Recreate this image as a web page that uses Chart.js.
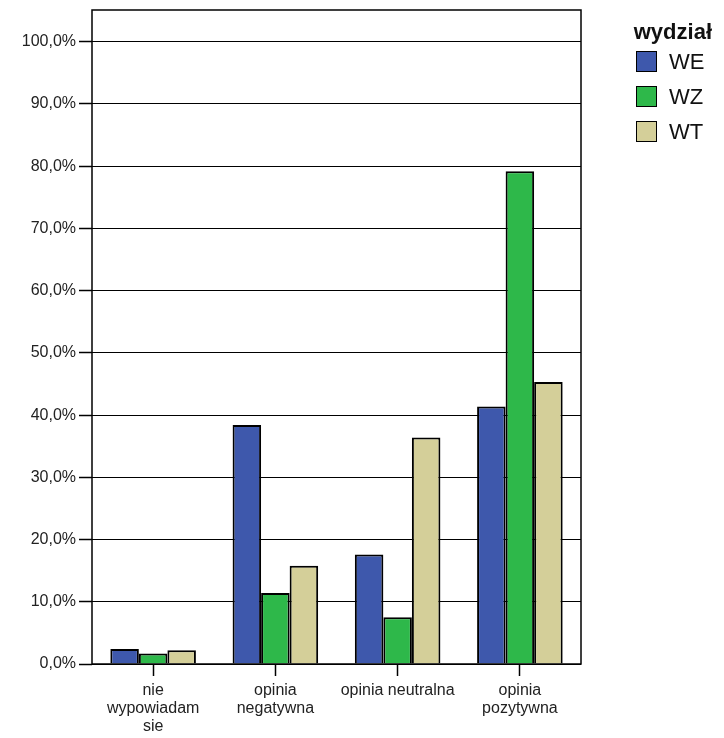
<!DOCTYPE html>
<html>
<head>
<meta charset="utf-8">
<script src="https://cdn.jsdelivr.net/npm/chart.js@4/dist/chart.umd.min.js"></script>
<style>
	body { margin: 0; background: #fff; }
	#wrap { position: relative; width: 724px; height: 738px; }
	#legend { position: absolute; left: 620px; top: 19px; font-family: Arial, 'Liberation Sans', sans-serif; color: #111; }
	#legend .title { font-weight: bold; font-size: 22px; text-align: right; width: 92px; margin-bottom: -1px; }
	#legend .item { display: flex; align-items: center; height: 35px; margin-left: 16px; font-size: 22px; }
	#legend .box { width: 19px; height: 19px; border: 1.5px solid #000; margin-right: 12px; }
</style>
</head>
<body>
<div id="wrap">
	<canvas id="CanvasWydzial" width="724" height="738"></canvas>
	<div id="legend"></div>
</div>
<script>
var categories = [['nie', 'wypowiadam', 'sie'], ['opinia', 'negatywna'], 'opinia neutralna', ['opinia', 'pozytywna']];
var seriesNames = ['WE', 'WZ', 'WT'];
var valuesWE = [2.4, 38.4, 17.6, 41.4];
var valuesWZ = [1.7, 11.4, 7.5, 79.2];
var valuesWT = [2.2, 15.8, 36.4, 45.3];
var yTicks = [0, 10, 20, 30, 40, 50, 60, 70, 80, 90, 100];
var colors = ['#3e58ac', '#2eb84a', '#d4cf99'];

var fontFamily = "Arial, 'Liberation Sans', sans-serif";

// box round the plot area
var frame = {
	id: 'frame',
	afterDatasetsDraw: function (chart) {
		var a = chart.chartArea;
		var ctx = chart.ctx;
		ctx.save();
		ctx.strokeStyle = '#000';
		ctx.lineWidth = 1.5;
		ctx.strokeRect(a.left, a.top, a.right - a.left, a.bottom - a.top);
		ctx.restore();
	}
};

var datasets = [valuesWE, valuesWZ, valuesWT].map(function (vals, i) {
	return {
		label: seriesNames[i],
		data: vals,
		backgroundColor: colors[i],
		borderColor: '#000',
		borderWidth: 2,
		categoryPercentage: 0.7,
		barPercentage: 1.0
	};
});

new Chart(document.getElementById('CanvasWydzial'), {
	type: 'bar',
	data: { labels: categories, datasets: datasets },
	plugins: [frame],
	options: {
		responsive: false,
		animation: false,
		layout: { padding: { top: 10, right: 143, bottom: 0, left: 0 } },
		plugins: { legend: { display: false }, tooltip: { enabled: false } },
		scales: {
			x: {
				grid: { display: true, drawOnChartArea: false, offset: false, tickLength: 12, tickColor: '#000', tickWidth: 1.5 },
				border: { display: false },
				ticks: { color: '#222', padding: 5, maxRotation: 0, font: { family: fontFamily, size: 16, lineHeight: 1.15 } },
				afterFit: function (scale) { scale.height = 74; }
			},
			y: {
				min: 0,
				max: 105.1,
				afterBuildTicks: function (scale) {
					scale.ticks = yTicks.map(function (v) { return { value: v }; });
				},
				grid: { color: '#000', lineWidth: 1, tickLength: 13, tickColor: '#000', tickWidth: 1.5 },
				border: { display: false },
				ticks: {
					color: '#222',
					padding: 3,
					font: { family: fontFamily, size: 16 },
					callback: function (v) { return v.toFixed(1).replace('.', ',') + '%'; }
				},
				afterFit: function (scale) {
					scale.width = 92;
					scale.paddingTop = 0;
				}
			}
		}
	}
});

var legendHtml = '<div class="title">wydział</div>';
seriesNames.forEach(function (name, i) {
	legendHtml += '<div class="item"><div class="box" style="background:' + colors[i] + '"></div>' + name + '</div>';
});
document.getElementById('legend').innerHTML = legendHtml;
</script>
</body>
</html>
